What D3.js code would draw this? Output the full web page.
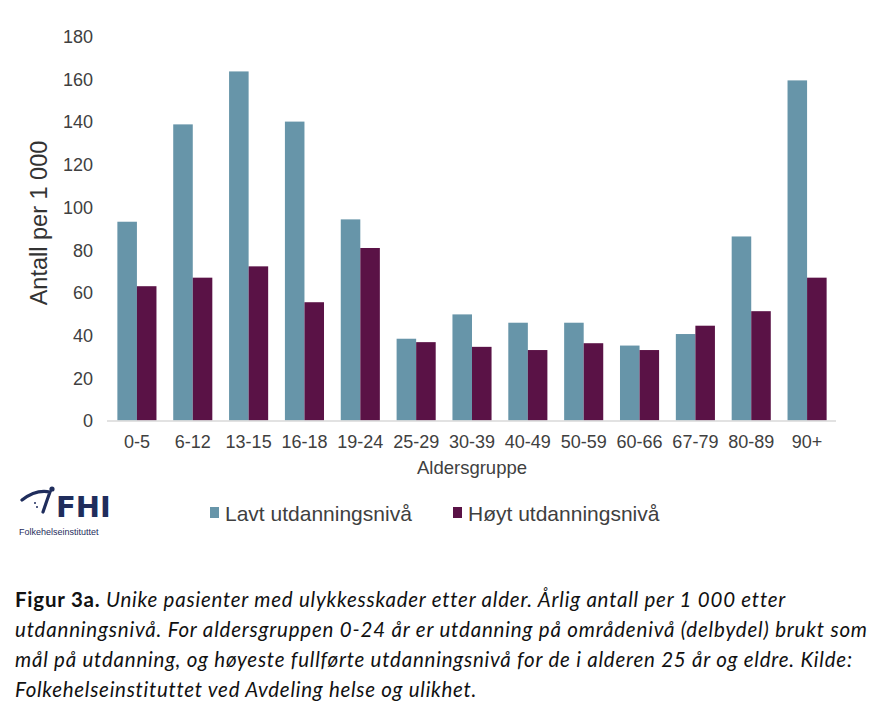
<!DOCTYPE html>
<html><head><meta charset="utf-8">
<script src="https://cdn.jsdelivr.net/npm/d3@7"></script>
<style>
html,body{margin:0;padding:0;background:#fff;}
svg{display:block;}
</style></head>
<body>
<svg id="chart" width="888" height="717"></svg>
<script>
const categories = ["0-5","6-12","13-15","16-18","19-24","25-29","30-39","40-49","50-59","60-66","67-79","80-89","90+"];
const lavt = [93.1,138.7,163.5,140.0,94.2,38.3,49.7,45.8,45.8,35.1,40.5,86.2,159.3];
const hoyt = [62.9,66.9,72.2,55.4,80.8,36.7,34.5,33.0,36.2,33.0,44.4,51.2,66.9];
const seriesNames = ["Lavt utdanningsnivå","Høyt utdanningsnivå"];
const yTicks = [0,20,40,60,80,100,120,140,160,180];
const colors = ["#6795a9","#5a1246"];

const svg = d3.select("#chart");
const font = "'Liberation Sans', Arial, sans-serif";
const x = d3.scaleBand().domain(categories).range([109,835]).paddingInner(0.3).paddingOuter(0.15);
const x1 = d3.scaleBand().domain([0,1]).range([0, x.bandwidth()]);
const y = d3.scaleLinear().domain([0,180]).range([420.5, 36.2]);

// bars
const series = [lavt, hoyt];
series.forEach((vals, si) => {
  svg.append("g").selectAll("rect").data(vals).join("rect")
    .attr("x", (d,i) => x(categories[i]) + x1(si))
    .attr("y", d => y(d))
    .attr("width", x1.bandwidth())
    .attr("height", d => y(0) - y(d))
    .attr("fill", colors[si]);
});

// baseline
svg.append("line").attr("x1",107).attr("x2",836).attr("y1",y(0)+0.5).attr("y2",y(0)+0.5)
  .attr("stroke","#d9d9d9").attr("stroke-width",1.5);

// y axis
const yAxis = d3.axisLeft(y).tickValues(yTicks).tickSize(0).tickPadding(0);
const gy = svg.append("g").attr("transform","translate(93,0)").call(yAxis);
gy.select(".domain").remove();
gy.selectAll("text").attr("font-family",font).attr("font-size",18).attr("fill","#404040").attr("dy","0.35em");

// x axis
const xAxis = d3.axisBottom(x).tickSize(0).tickPadding(0);
const gx = svg.append("g").attr("transform","translate(0,448)").call(xAxis);
gx.select(".domain").remove();
gx.selectAll("text").attr("font-family",font).attr("font-size",18).attr("fill","#404040").attr("dy",0);

// axis titles
svg.append("text").attr("x",472).attr("y",474).attr("text-anchor","middle")
  .attr("font-family",font).attr("font-size",18.5).attr("fill","#404040").text("Aldersgruppe");
svg.append("text").attr("transform","translate(47,223) rotate(-90)").attr("text-anchor","middle")
  .attr("font-family",font).attr("font-size",23.5).attr("fill","#333").text("Antall per 1 000");

// legend
const legendX = [210, 453];
seriesNames.forEach((n,i) => {
  const g = svg.append("g").attr("transform",`translate(${legendX[i]},0)`);
  g.append("rect").attr("x",0).attr("y",507).attr("width",9).attr("height",11).attr("fill",colors[i]);
  g.append("text").attr("x",15).attr("y",521).attr("font-family",font).attr("font-size",21)
    .attr("fill","#404040").text(n);
});

// FHI logo
const logo = svg.append("g");
logo.append("path").attr("d","M22,500 Q36,489 50,492 Q47,500 43,512").attr("fill","none")
  .attr("stroke","#1f2d5c").attr("stroke-width",3.2).attr("stroke-linecap","round");
logo.append("circle").attr("cx",52).attr("cy",489).attr("r",2.6).attr("fill","#1f2d5c");
logo.append("circle").attr("cx",35).attr("cy",503).attr("r",1).attr("fill","#1f2d5c");
logo.append("circle").attr("cx",37).attr("cy",507).attr("r",1).attr("fill","#1f2d5c");
logo.append("text").attr("x",56).attr("y",517).attr("font-family","'DejaVu Sans', sans-serif")
  .attr("font-weight","bold").attr("font-size",29).attr("fill","#1f2d5c").text("FHI");
logo.append("text").attr("x",19).attr("y",535).attr("font-family",font)
  .attr("font-size",9).attr("fill","#1f2d5c").text("Folkehelseinstituttet");

// caption
const capFont = "Lato, 'Open Sans', sans-serif";
const capLines = [
  [["Figur 3a.", true], [" Unike pasienter med ulykkesskader etter alder. Årlig antall per 1 000 etter", false]],
  [["utdanningsnivå. For aldersgruppen 0-24 år er utdanning på områdenivå (delbydel) brukt som", false]],
  [["mål på utdanning, og høyeste fullførte utdanningsnivå for de i alderen 25 år og eldre. Kilde:", false]],
  [["Folkehelseinstituttet ved Avdeling helse og ulikhet.", false]]
];
const capY = [607, 637, 667, 697];
const capEnd = [783, 867, 852, 475];
capLines.forEach((parts, li) => {
  const t = svg.append("text").attr("x",15).attr("y",capY[li]).attr("font-family",capFont)
    .attr("font-size",20.5).attr("fill","#111");
  parts.forEach(([s,b]) => {
    t.append("tspan").text(s).attr("font-weight", b ? "bold" : "normal").attr("font-style", b ? "normal" : "italic");
  });
  const w = t.node().getComputedTextLength();
  const n = parts.map(p => p[0]).join("").length;
  const ls = ((capEnd[li] - 15) - w) / (n - 1);
  t.attr("letter-spacing", ls);
});
</script>
</body></html>
